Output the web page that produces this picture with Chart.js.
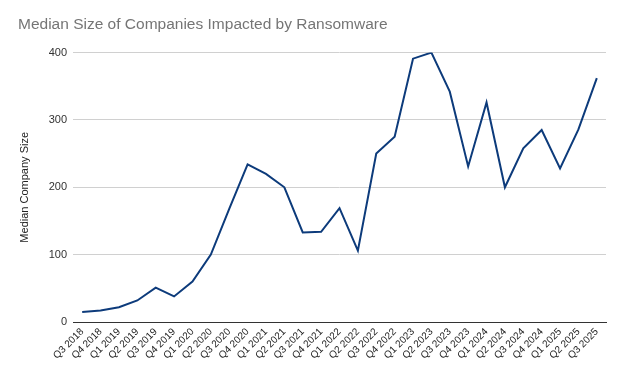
<!DOCTYPE html>
<html><head><meta charset="utf-8">
<script src="https://cdn.jsdelivr.net/npm/chart.js@4"></script>
<style>html,body{margin:0;padding:0;background:#fff}#w{width:632px;height:391px}</style>
</head><body><div id="w"><canvas id="c"></canvas></div>
<script>
const categories = ["Q3 2018","Q4 2018","Q1 2019","Q2 2019","Q3 2019","Q4 2019","Q1 2020","Q2 2020","Q3 2020","Q4 2020","Q1 2021","Q2 2021","Q3 2021","Q4 2021","Q1 2022","Q2 2022","Q3 2022","Q4 2022","Q1 2023","Q2 2023","Q3 2023","Q4 2023","Q1 2024","Q2 2024","Q3 2024","Q4 2024","Q1 2025","Q2 2025","Q3 2025"];
const medianSize = [15,17,22,32,51,38,60,100,168,234,220,200,133,134,169,106,250,275,391,400,342,231,326,200,258,285,228,286,362];
const yTicks = [0,100,200,300,400];

new Chart(document.getElementById('c'), {
  type: 'line',
  data: { labels: categories, datasets: [{ data: medianSize, borderColor: '#0d3b7b', borderWidth: 2, pointRadius: 0, tension: 0, fill: false }] },
  options: {
    responsive: true, maintainAspectRatio: false, animation: false,
    layout: { padding: { left: 18, right: 26, top: 0, bottom: 0 } },
    plugins: {
      legend: { display: false }, tooltip: { enabled: false },
      title: { display: true, text: 'Median Size of Companies Impacted by Ransomware', align: 'start',
        color: '#757575', font: { family: 'Liberation Sans, Arial, sans-serif', size: 15.5, weight: 'normal' },
        padding: { top: 15, bottom: 19 } }
    },
    scales: {
      x: { offset: true,
        grid: { display: false, drawTicks: false },
        border: { display: true, color: '#333', width: 1 },
        ticks: { autoSkip: false, maxRotation: 45, minRotation: 45, padding: 4, color: '#222',
          font: { family: 'Liberation Sans, Arial, sans-serif', size: 10 } },
        afterFit: s => { s.height = 69; }
      },
      y: { min: 0, max: 400,
        afterBuildTicks: s => { s.ticks = yTicks.map(v => ({ value: v })); },
        grid: { color: '#d0d0d0', drawTicks: false },
        border: { display: false },
        ticks: { padding: 6, color: '#333', font: { family: 'Liberation Sans, Arial, sans-serif', size: 11 } },
        title: { display: true, text: 'Median Company Size', color: '#222', padding: { top: 0, bottom: 12 },
          font: { family: 'Liberation Sans, Arial, sans-serif', size: 11 } },
        afterFit: s => { s.width = 55; }
      }
    }
  }
});
</script></body></html>
